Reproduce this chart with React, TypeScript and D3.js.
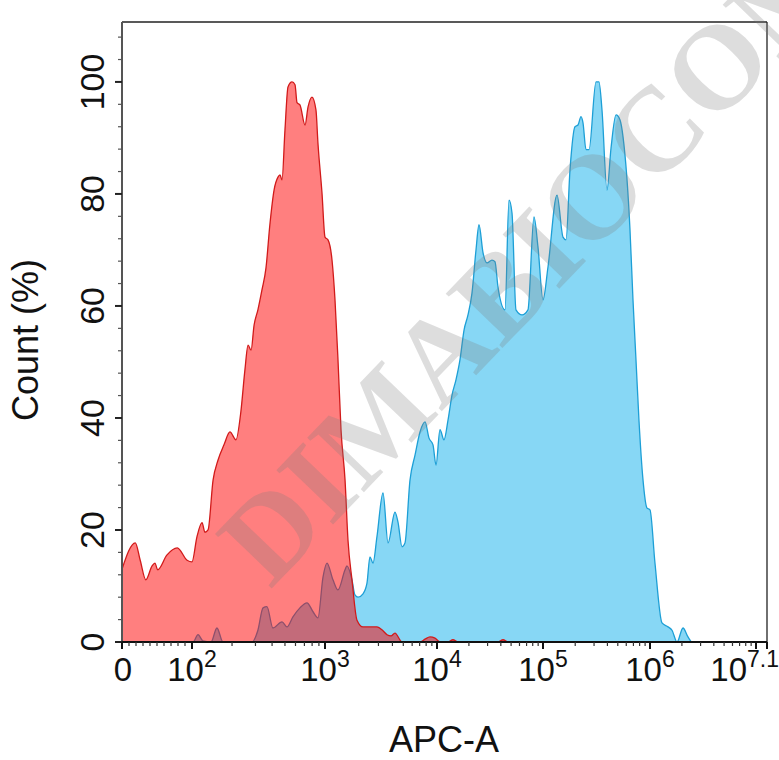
import * as d3 from "d3";

// APC-A intensity and Count (%)
const redApc = [0, 19, 26, 34, 43, 47, 51, 64, 79, 93, 100, 109, 119, 125, 132, 144, 157, 174, 193, 214, 233, 250, 264, 278, 293, 313, 336, 360, 385, 414, 443, 459, 475, 500, 527, 565, 595, 616, 648, 708, 745, 798, 855, 885, 949, 1000, 1064, 1155, 1228, 1306, 1390, 1510, 1604, 1742, 1930, 2185, 2910, 3295, 3580, 3885, 4215, 4870, 7050, 7810, 8660, 9600, 10670, 12700, 14150, 15800, 37600, 42000, 46800, 12600000];
const redCount = [13.0, 17.7, 14.6, 11.1, 13.6, 14.1, 12.9, 15.5, 16.8, 14.6, 14.3, 18.8, 21.3, 19.6, 20.0, 28.9, 32.5, 35.2, 37.5, 36.1, 41.1, 48.6, 53.0, 52.1, 56.6, 59.3, 62.9, 66.8, 74.5, 80.7, 83.0, 83.4, 82.5, 91.4, 99.1, 100, 99.5, 96.3, 95.9, 92.3, 95.5, 97.3, 95.0, 89.1, 80.2, 72.3, 71.8, 68.2, 61.1, 50.4, 37.9, 28.9, 18.2, 11.1, 3.9, 2.7, 2.7, 2.0, 1.3, 1.1, 1.6, 0, 0, 0.5, 0.9, 0.7, 0, 0, 0.4, 0, 0, 0.4, 0, 0];

const blueApc = [0, 102, 111, 121, 139, 154, 171, 282, 313, 342, 366, 406, 475, 518, 574, 648, 732, 813, 885, 966, 1042, 1178, 1306, 1510, 1570, 1742, 1852, 1972, 2185, 2370, 2520, 2685, 2910, 3295, 3655, 4215, 4485, 4870, 5180, 5740, 6370, 7050, 7820, 8490, 9210, 9800, 10670, 11640, 12700, 13850, 15100, 16480, 17990, 19600, 21380, 23330, 24900, 27170, 29630, 33000, 35240, 37600, 43800, 47800, 51000, 55600, 63400, 72100, 82200, 89700, 100000, 111400, 135200, 153800, 164100, 178800, 199000, 212400, 226500, 236500, 252300, 269200, 312900, 333600, 355900, 396300, 432300, 481300, 524700, 559700, 650100, 693400, 739500, 788700, 860600, 938000, 1000000, 1114000, 1297000, 1478000, 1613000, 1798000, 2048000, 2283000, 2489000, 12600000];
const blueCount = [0, 0, 1.3, 0.2, 0, 2.5, 0, 0, 2.1, 6.1, 6.3, 2.5, 3.6, 2.7, 4.5, 6.1, 7.0, 5.4, 4.3, 11.6, 14.1, 11.1, 9.3, 12.9, 13.6, 11.1, 8.4, 8.0, 8.6, 10.5, 15.2, 14.1, 18.8, 26.6, 17.7, 23.2, 21.4, 17.0, 17.7, 28.9, 33.4, 37.5, 39.3, 36.4, 35.2, 31.6, 37.9, 36.1, 39.6, 44.1, 46.8, 50.4, 55.7, 58.4, 62.3, 70.0, 74.5, 69.5, 67.7, 68.2, 67.9, 63.4, 59.3, 78.9, 76.6, 59.3, 58.4, 59.3, 75.9, 70.5, 61.1, 67.0, 79.8, 72.3, 71.8, 84.3, 92.0, 92.3, 93.8, 92.7, 87.9, 87.9, 100, 100, 95.0, 80.7, 88.2, 94.1, 93.2, 90.2, 73.6, 61.1, 50.4, 39.6, 28.9, 23.9, 23.6, 14.1, 3.4, 2.7, 2.1, 0, 2.5, 0.9, 0, 0];

const yTicks = [0, 20, 40, 60, 80, 100];
const xDecades = [2, 3, 4, 5, 6];
const xMaxExp = 7.1;

const W = 779;
const H = 760;

// linear below 100, log above (biex-like display)
const toT = (v: number) => (v <= 100 ? v / 50 : Math.log10(v));

const x = d3.scaleLinear()
  .domain([0, 2, 3, 4, 5, 6, 7, xMaxExp])
  .range([122, 192, 325, 437, 543, 650, 756, 767]);
const y = d3.scaleLinear().domain([0, 110.7]).range([642, 22]);

const area = d3.area<number[]>()
  .x((d) => x(toT(d[0])))
  .y0(y(0))
  .y1((d) => y(d[1]))
  .curve(d3.curveMonotoneX);
const line = d3.line<number[]>()
  .x((d) => x(toT(d[0])))
  .y((d) => y(d[1]))
  .curve(d3.curveMonotoneX);

const red = redApc.map((v, i) => [v, redCount[i]]);
const blue = blueApc.map((v, i) => [v, blueCount[i]]);

export default function App() {
  const [x0, x1] = [x.range()[0], x.range()[x.range().length - 1]];
  const [yb, yt] = y.range();

  const minorX: number[] = [10, 20, 30, 40, 50, 60, 70, 80, 90];
  for (let d = 2; d < 7; d++) for (let k = 2; k < 10; k++) minorX.push(k * 10 ** d);
  const minorY = d3.range(4, 110, 4).filter((v) => v % 20 !== 0);

  return (
    <svg width={W} height={H} style={{ position: "absolute", left: 0, top: 0 }}
      fontFamily="'Liberation Sans', Arial, sans-serif">
      <rect width={W} height={H} fill="#fff" />

      <path d={area(blue) ?? ""} fill="#87d7f5" />
      <path d={line(blue) ?? ""} fill="none" stroke="#1d9fd6" strokeWidth={1.3} />
      <path d={area(red) ?? ""} fill="#ff0000" fillOpacity={0.5} />
      <path d={line(red) ?? ""} fill="none" stroke="#d11a1a" strokeWidth={1.3} />

      {/* frame */}
      <line x1={x0} x2={x1} y1={yt} y2={yt} stroke="#222" strokeWidth={1.3} />
      <line x1={x1} x2={x1} y1={yt} y2={yb} stroke="#222" strokeWidth={1.3} />
      <line x1={x0} x2={x0} y1={yt} y2={yb} stroke="#555" strokeWidth={2} />
      <line x1={x0} x2={x1} y1={yb} y2={yb} stroke="#111" strokeWidth={2} />

      {/* y axis */}
      {minorY.map((v) => (
        <line key={"my" + v} x1={x0 - 4} x2={x0} y1={y(v)} y2={y(v)} stroke="#555" strokeWidth={1.2} />
      ))}
      {yTicks.map((v) => (
        <g key={"y" + v}>
          <line x1={x0 - 7} x2={x0} y1={y(v)} y2={y(v)} stroke="#222" strokeWidth={2} />
          <text transform={`translate(104,${y(v)}) rotate(-90)`} textAnchor="middle" fontSize={34} fill="#111">{v}</text>
        </g>
      ))}
      <text transform={`translate(38,340) rotate(-90)`} textAnchor="middle" fontSize={36} fill="#111">Count (%)</text>

      {/* x axis */}
      {minorX.map((v) => (
        <line key={"mx" + v} x1={x(toT(v))} x2={x(toT(v))} y1={yb} y2={yb + 4} stroke="#333" strokeWidth={1.2} />
      ))}
      {[0, 2, 3, 4, 5, 6, 7].map((t) => (
        <line key={"tx" + t} x1={x(t)} x2={x(t)} y1={yb} y2={yb + 7} stroke="#111" strokeWidth={2} />
      ))}
      <line x1={x1} x2={x1} y1={yb} y2={yb + 7} stroke="#111" strokeWidth={2} />
      <text x={x(0) + 1} y={681} textAnchor="middle" fontSize={33} fill="#111">0</text>
      {xDecades.map((d) => (
        <text key={"lx" + d} x={x(d)} y={681} textAnchor="middle" fontSize={33} fill="#111">
          10<tspan dy={-14} fontSize={23}>{d}</tspan>
        </text>
      ))}
      <text x={x(xMaxExp) + 12} y={681} textAnchor="end" fontSize={33} fill="#111">
        10<tspan dy={-14} fontSize={23}>{xMaxExp}</tspan>
      </text>
      <text x={444} y={752} textAnchor="middle" fontSize={36} fill="#111">APC-A</text>

      {/* watermark */}
      <text transform="translate(240,561) rotate(-46.2)" dy="0.35em" fontSize={120} fontWeight="bold"
        fontFamily="'Liberation Serif', 'DejaVu Serif', serif" fill="#7a7a7a" fillOpacity={0.26}>
        DIMABIOCOM
      </text>
    </svg>
  );
}
